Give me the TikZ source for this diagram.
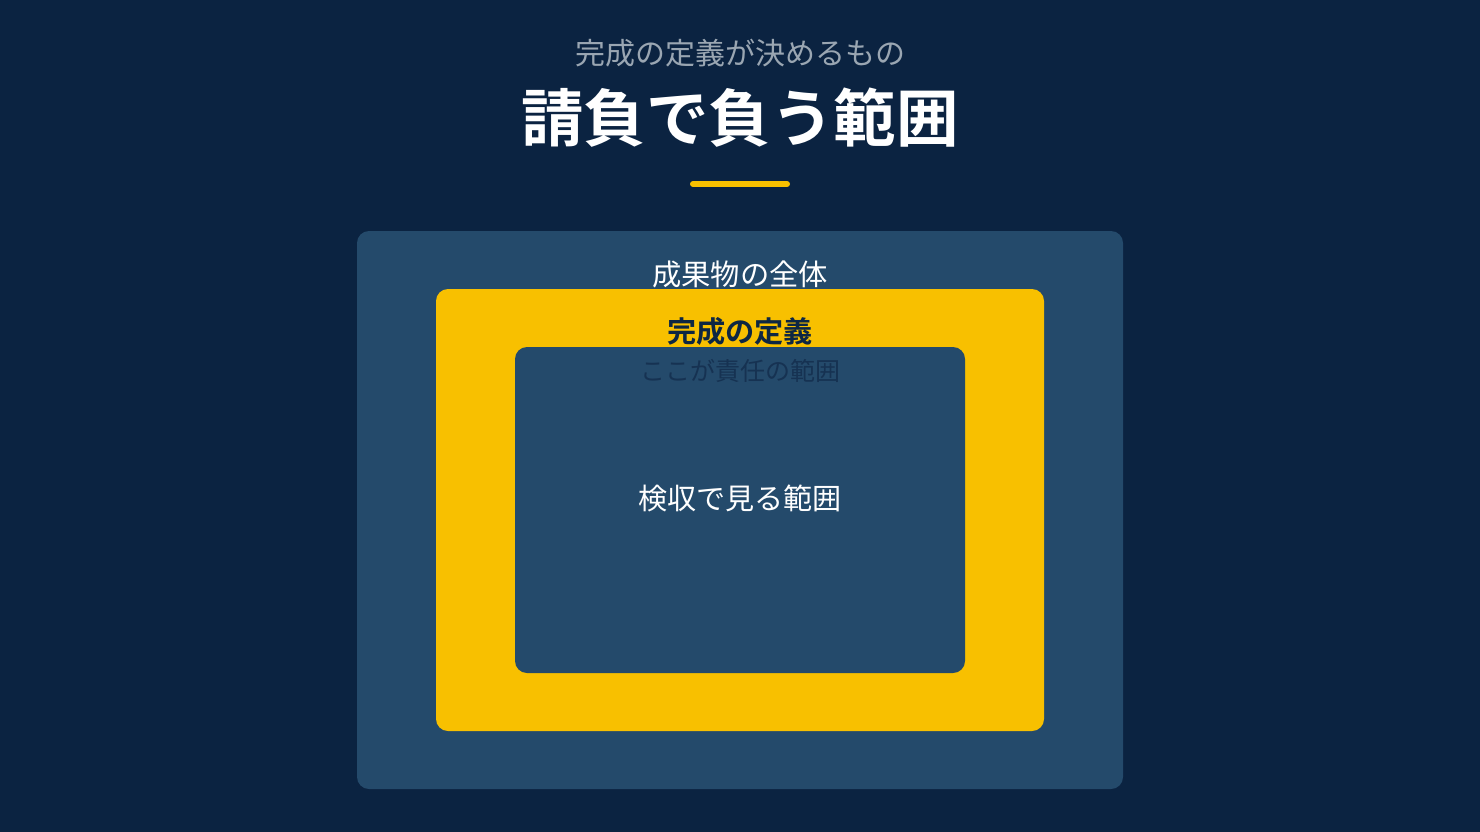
\documentclass[tikz,border=0pt]{standalone}
\usepackage{fontspec}
\newfontfamily\jp{Noto Sans CJK JP}
\newfontfamily\jpb{Noto Sans CJK JP Bold}
\definecolor{bgnavy}{HTML}{0B2341}
\definecolor{boxblue}{HTML}{244A6B}
\definecolor{accent}{HTML}{F8C000}
\definecolor{subgray}{HTML}{9AA6B2}
\definecolor{darktext}{HTML}{0E2743}
\definecolor{faintnavy}{HTML}{163252}
\tikzset{
  panel/.style={rounded corners=12pt, draw=none},
  lbl/.style={inner sep=0pt, anchor=center},
}
\begin{document}
\begin{tikzpicture}[x=1pt,y=-1pt]
\fill[bgnavy] (0,0) rectangle (1480,832);
\useasboundingbox (0,0) rectangle (1480,832);
\node[lbl, text=subgray, font=\jp\fontsize{30}{36}\selectfont] (sub) at (740,53) {完成の定義が決めるもの};
\node[lbl, text=white, font=\jpb\fontsize{62.5}{72}\selectfont] (title) at (740,118) {請負で負う範囲};
\coordinate (ulL) at (693,184);
\coordinate (ulR) at (787,184);
\draw[accent, line width=6pt, line cap=round] (ulL) -- (ulR);
\fill[boxblue, panel] (357,231) rectangle (1123,789);
\node[lbl, text=white, font=\jp\fontsize{29.3}{34}\selectfont] (whole) at (740,274) {成果物の全体};
\fill[accent, panel] (436,289) rectangle (1044,731);
\node[lbl, text=darktext, font=\jpb\fontsize{29.2}{34}\selectfont] (def) at (740,331) {完成の定義};
\fill[boxblue, panel] (515,347) rectangle (965,673);
\node[lbl, text=faintnavy, font=\jp\fontsize{25}{30}\selectfont] (resp) at (740,371) {ここが責任の範囲};
\node[lbl, text=white, font=\jp\fontsize{29.1}{34}\selectfont] (insp) at (740,498) {検収で見る範囲};
\end{tikzpicture}
\end{document}
